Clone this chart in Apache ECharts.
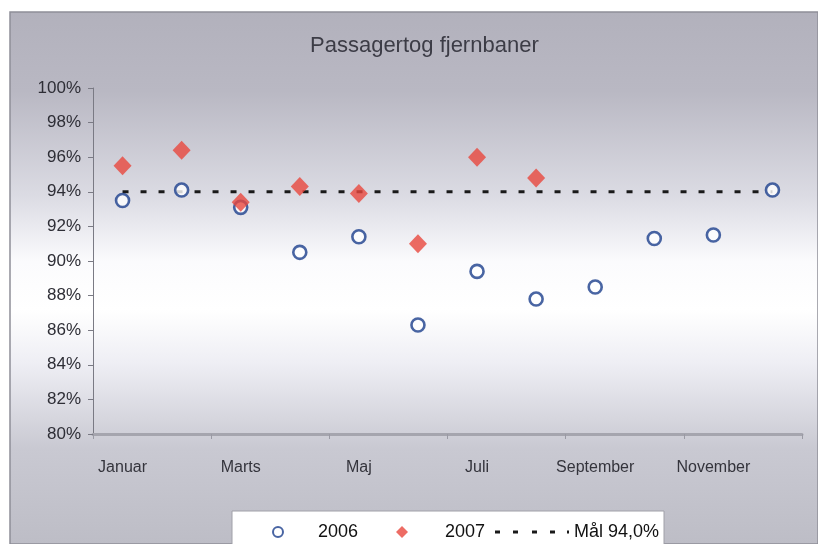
<!DOCTYPE html>
<html>
<head>
<meta charset="utf-8">
<script src="https://cdn.jsdelivr.net/npm/echarts@6/dist/echarts.min.js"></script>
<style>
html,body{margin:0;padding:0;background:#fff;}
#chart{width:818px;height:544px;}
</style>
</head>
<body>
<div id="chart"></div>
<script>
// Punktlighed for passagertog, fjernbaner
const months = ['Januar','Februar','Marts','April','Maj','Juni','Juli','August','September','Oktober','November','December'];
const values2006 = [93.5, 94.1, 93.1, 90.5, 91.4, 86.3, 89.4, 87.8, 88.5, 91.3, 91.5, 94.1];
const values2007 = [95.5, 96.4, 93.4, 94.3, 93.9, 91.0, 96.0, 94.8];
const targetValue = 94.0;
const targetLine = months.map(() => targetValue);
const yTicks = { min: 80, max: 100, step: 2 };

const chart = echarts.init(document.getElementById('chart'), null, { renderer: 'canvas' });

const bgGradient = new echarts.graphic.LinearGradient(0, 0, 0, 1, [
  { offset: 0.00, color: '#b2b1bc' },
  { offset: 0.15, color: '#b9b8c3' },
  { offset: 0.35, color: '#dcdce4' },
  { offset: 0.47, color: '#fbfbfd' },
  { offset: 0.56, color: '#ffffff' },
  { offset: 0.66, color: '#eeeef4' },
  { offset: 0.82, color: '#c9c9d2' },
  { offset: 1.00, color: '#bdbdc6' }
]);

const font = 'Liberation Sans, Arial, sans-serif';
const legendText = { fontFamily: font, fontSize: 18, color: '#111' };
// dashed stroke used as the legend symbol of the target line
const dashIcon = 'path://M0,0h5v3h-5z M18,0h5v3h-5z M37,0h5v3h-5z M55,0h5v3h-5z M72,0h2v3h-2z';

chart.setOption({
  animation: false,
  backgroundColor: '#ffffff',
  graphic: [
    {
      type: 'rect', z: -10, silent: true,
      shape: { x: 10, y: 12, width: 808, height: 532 },
      style: { fill: bgGradient, stroke: '#8e8e98', lineWidth: 1.5 }
    },
    {
      type: 'rect', z: 5, silent: true,
      shape: { x: 232, y: 511, width: 432, height: 40 },
      style: { fill: '#ffffff', stroke: '#a0a0a8', lineWidth: 1 }
    }
  ],
  title: {
    text: 'Passagertog fjernbaner',
    left: 305, top: 30,
    textStyle: { fontFamily: font, fontSize: 22, fontWeight: 'normal', color: '#3c3c46' }
  },
  grid: { left: 93, right: 16, top: 88, bottom: 110 },
  legend: [
    { data: [{ name: '2006', icon: 'circle' }], left: 272, top: 523, padding: 0,
      itemWidth: 10, itemHeight: 10, textStyle: Object.assign({ padding: [0, 0, 0, 30] }, legendText), z: 6 },
    { data: [{ name: '2007', icon: 'diamond' }], left: 396, top: 523, padding: 0,
      itemWidth: 12, itemHeight: 12, textStyle: Object.assign({ padding: [0, 0, 0, 32] }, legendText), z: 6 },
    { data: [{ name: 'Mål 94,0%', icon: dashIcon }], left: 495, top: 523, padding: 0,
      itemWidth: 74, itemHeight: 3, textStyle: legendText, z: 6 }
  ],
  xAxis: {
    type: 'category',
    data: months,
    boundaryGap: true,
    axisLine: { show: true, lineStyle: { color: '#a5a5ae', width: 3 } },
    axisTick: { show: true, interval: 1, length: 5, lineStyle: { color: '#9a9aa4' } },
    axisLabel: {
      interval: 1, margin: 26,
      fontFamily: font, fontSize: 16, color: '#34343c'
    },
    splitLine: { show: false }
  },
  yAxis: {
    type: 'value',
    min: yTicks.min, max: yTicks.max, interval: yTicks.step,
    axisLine: { show: true, lineStyle: { color: '#7a7a84', width: 1 } },
    axisTick: { show: true, length: 5, lineStyle: { color: '#7a7a84' } },
    axisLabel: {
      margin: 12,
      formatter: v => v + '%',
      fontFamily: font, fontSize: 17, color: '#2e2e36'
    },
    splitLine: { show: false }
  },
  series: [
    {
      name: 'Mål 94,0%',
      type: 'line',
      data: targetLine,
      symbol: 'none',
      z: 1,
      lineStyle: { color: '#1a1a1a', width: 3, type: [6, 12] },
      itemStyle: { color: '#1a1a1a' }
    },
    {
      name: '2006',
      type: 'scatter',
      data: values2006,
      symbol: 'circle',
      symbolSize: 13,
      z: 2,
      itemStyle: { color: '#ffffff', borderColor: '#1c3f8c', borderWidth: 2.6 }
    },
    {
      name: '2007',
      type: 'scatter',
      data: values2007,
      symbol: 'diamond',
      symbolSize: [18, 19],
      z: 3,
      itemStyle: { color: '#e8473d' }
    }
  ]
});
</script>
</body>
</html>
